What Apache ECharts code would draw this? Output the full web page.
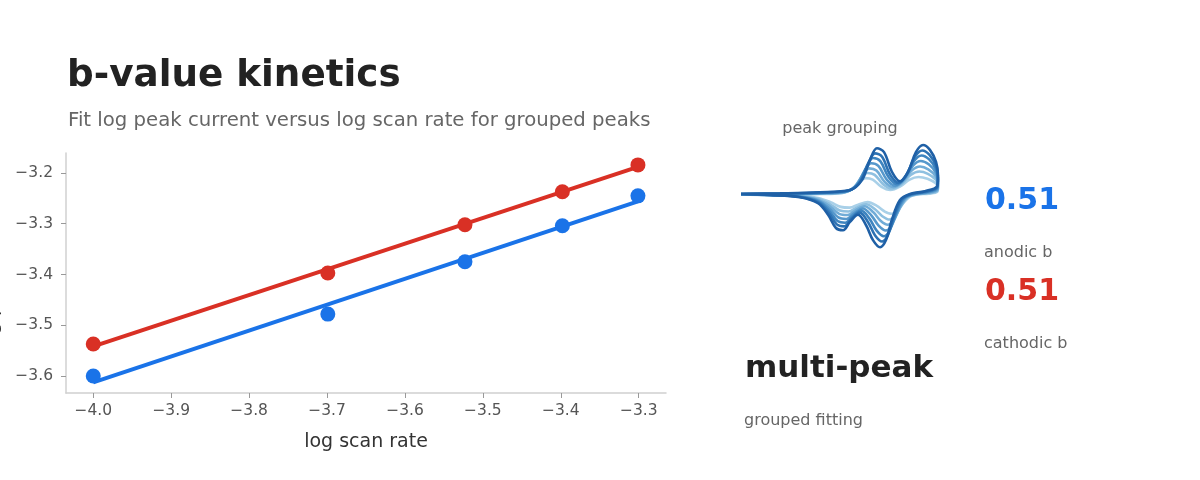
<!DOCTYPE html>
<html>
<head>
<meta charset="utf-8">
<script src="https://cdn.jsdelivr.net/npm/echarts@6/dist/echarts.min.js"></script>
<style>
html,body{margin:0;padding:0;background:#fff;}
#chart{width:1200px;height:480px;}
</style>
</head>
<body>
<div id="chart"></div>
<script>
// ---- data ----
const logScanRate = [-4.0, -3.699, -3.523, -3.398, -3.301];
const anodicLogI = [-3.600, -3.478, -3.375, -3.304, -3.245];
const cathodicLogI = [-3.537, -3.397, -3.302, -3.237, -3.184];
const xTickValues = [-4.0, -3.9, -3.8, -3.7, -3.6, -3.5, -3.4, -3.3];
const yTickValues = [-3.6, -3.5, -3.4, -3.3, -3.2];

// inset CV (outermost loop; normalised units)
const cvPotential = [0, 0.198, 0.401, 0.553, 0.614, 0.655, 0.69, 0.726, 0.766, 0.807, 0.848, 0.888, 0.924, 0.959, 0.99, 1.0,
  0.995, 0.934, 0.858, 0.807, 0.766, 0.736, 0.706, 0.67, 0.635, 0.594, 0.553, 0.518, 0.482, 0.442, 0.391, 0.299, 0.147, 0];
const cvCurrent = [0.02, 0.03, 0.05, 0.09, 0.27, 0.64, 0.85, 0.78, 0.42, 0.25, 0.42, 0.78, 0.91, 0.82, 0.60, 0.36,
  0.16, 0.07, 0.02, -0.09, -0.45, -0.82, -0.95, -0.82, -0.55, -0.36, -0.49, -0.64, -0.60, -0.36, -0.15, -0.04, 0, 0.02];
const cvForwardCount = 16; // first 16 points are the forward (anodic) sweep
const cvScales = [0.36, 0.47, 0.57, 0.68, 0.79, 0.89, 1.0];
const cvPeakShift = [0.058, 0.048, 0.039, 0.029, 0.019, 0.010, 0]; // peak potential offset of each loop (read)
const cvColors = ['#a9d0e8', '#8fc0e0', '#71acd7', '#5698cc', '#3f85c0', '#2d72b3', '#1f60a6'];

const BLUE = '#1a73e8', RED = '#d93025';
const FONT = 'DejaVu Sans';

function linfit(x, y) {
  const n = x.length;
  const mx = x.reduce((a, b) => a + b, 0) / n;
  const my = y.reduce((a, b) => a + b, 0) / n;
  let sxy = 0, sxx = 0;
  for (let i = 0; i < n; i++) { sxy += (x[i] - mx) * (y[i] - my); sxx += (x[i] - mx) * (x[i] - mx); }
  const b = sxy / sxx;
  return { slope: b, intercept: my - b * mx };
}
const fitA = linfit(logScanRate, anodicLogI);
const fitC = linfit(logScanRate, cathodicLogI);
const xLo = Math.min(...logScanRate), xHi = Math.max(...logScanRate);
const fitLine = f => [[xLo, f.intercept + f.slope * xLo], [xHi, f.intercept + f.slope * xHi]];

const minus = v => v.toFixed(1).replace('-', '\u2212');

// anodic peaks sit further left and cathodic further right on the smaller loops
const shiftWeight = p => (p > 0.4 && p < 1) ? Math.sin(Math.PI * (p - 0.4) / 0.6) : 0;
const cvSeries = cvScales.map((s, k) => ({
  type: 'line', xAxisIndex: 1, yAxisIndex: 1, smooth: 0.35, symbol: 'none', silent: true,
  data: cvPotential.map((p, i) => {
    const dir = i < cvForwardCount ? -1 : 1;
    return [p + dir * cvPeakShift[k] * shiftWeight(p), cvCurrent[i] * s];
  }),
  lineStyle: { color: cvColors[k], width: 2.6 }, z: 2 + k
}));

const chart = echarts.init(document.getElementById('chart'), null, { renderer: 'canvas' });
chart.setOption({
  animation: false,
  textStyle: { fontFamily: FONT },
  grid: [
    { left: 66, top: 153, width: 600, height: 240, containLabel: false, outerBoundsMode: 'none' },
    { left: 741, top: 140, width: 197, height: 110, containLabel: false, outerBoundsMode: 'none' }
  ],
  xAxis: [
    {
      gridIndex: 0, type: 'value', min: -4.035, max: -3.265,
      name: 'log scan rate', nameLocation: 'middle', nameGap: 40,
      nameTextStyle: { fontSize: 19, color: '#333', fontFamily: FONT },
      axisLine: { lineStyle: { color: '#d0d0d0', width: 1.5 } },
      axisTick: { show: true, length: 5, customValues: xTickValues, lineStyle: { color: '#999' } },
      axisLabel: { customValues: xTickValues, formatter: minus, fontSize: 15.5, color: '#555', margin: 10, fontFamily: FONT },
      splitLine: { show: false }
    },
    { gridIndex: 1, type: 'value', min: 0, max: 1, show: false }
  ],
  yAxis: [
    {
      gridIndex: 0, type: 'value', min: -3.6335, max: -3.1606,
      name: 'log peak current', nameLocation: 'middle', nameGap: 64, nameRotate: 90,
      nameTextStyle: { fontSize: 19, color: '#333', fontFamily: FONT },
      axisLine: { show: true, lineStyle: { color: '#d0d0d0', width: 1.5 } },
      axisTick: { show: true, length: 5, customValues: yTickValues, lineStyle: { color: '#999' } },
      axisLabel: { customValues: yTickValues, formatter: minus, fontSize: 15.5, color: '#555', margin: 13, fontFamily: FONT },
      splitLine: { show: false }
    },
    { gridIndex: 1, type: 'value', min: -1, max: 1, show: false }
  ],
  series: [
    { type: 'line', data: fitLine(fitC), symbol: 'none', lineStyle: { color: RED, width: 4 }, z: 3 },
    { type: 'line', data: fitLine(fitA), symbol: 'none', lineStyle: { color: BLUE, width: 4 }, z: 3 },
    { type: 'scatter', data: logScanRate.map((x, i) => [x, cathodicLogI[i]]), symbolSize: 15, itemStyle: { color: RED, opacity: 1 }, z: 4 },
    { type: 'scatter', data: logScanRate.map((x, i) => [x, anodicLogI[i]]), symbolSize: 15, itemStyle: { color: BLUE, opacity: 1 }, z: 4 },
    ...cvSeries
  ],
  graphic: [
    { type: 'text', left: 67, top: 58, style: { text: 'b-value kinetics', font: 'bold 37.3px "DejaVu Sans"', fill: '#222' } },
    { type: 'text', left: 68, top: 111, style: { text: 'Fit log peak current versus log scan rate for grouped peaks', font: '19.7px "DejaVu Sans"', fill: '#666' } },
    { type: 'text', x: 840, y: 129, style: { text: 'peak grouping', font: '16px "DejaVu Sans"', fill: '#666', align: 'center', verticalAlign: 'middle' } },
    { type: 'text', x: 985, y: 201, style: { text: fitA.slope.toFixed(2), font: 'bold 30px "DejaVu Sans"', fill: BLUE, verticalAlign: 'middle' } },
    { type: 'text', x: 984, y: 253, style: { text: 'anodic b', font: '16px "DejaVu Sans"', fill: '#666', verticalAlign: 'middle' } },
    { type: 'text', x: 985, y: 292, style: { text: fitC.slope.toFixed(2), font: 'bold 30px "DejaVu Sans"', fill: RED, verticalAlign: 'middle' } },
    { type: 'text', x: 984, y: 344, style: { text: 'cathodic b', font: '16px "DejaVu Sans"', fill: '#666', verticalAlign: 'middle' } },
    { type: 'text', x: 745, y: 369, style: { text: 'multi-peak', font: 'bold 31px "DejaVu Sans"', fill: '#222', verticalAlign: 'middle' } },
    { type: 'text', x: 744, y: 421, style: { text: 'grouped fitting', font: '16px "DejaVu Sans"', fill: '#666', verticalAlign: 'middle' } }
  ]
});
</script>
</body>
</html>
